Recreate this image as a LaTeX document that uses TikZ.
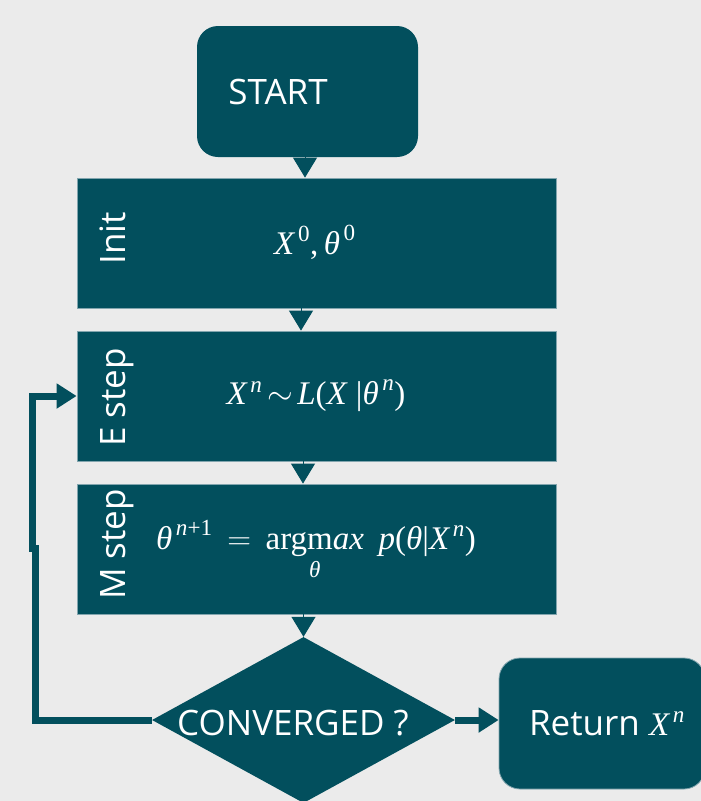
\documentclass[tikz,border=0pt]{standalone}
\usepackage{fix-cm}
\usepackage{amsmath}
\usepackage[no-math]{fontspec}
\setmainfont{Open Sans}
\newfontfamily\formulafont{Liberation Serif}
% italic and upright formula pieces set in the serif text face
\newcommand{\fvar}[1]{\text{\formulafont\itshape #1}}
\newcommand{\fup}[1]{\text{\formulafont #1}}
% base letter with a little room before its superscript
\newcommand{\fbase}[1]{{\fvar{#1}\mkern2mu}}
\usetikzlibrary{shapes.geometric,arrows.meta}
\definecolor{emfill}{RGB}{2,79,93}
\definecolor{emback}{RGB}{235,235,235}
\definecolor{emedge}{RGB}{130,165,174}
\begin{document}
\begin{tikzpicture}[x=1pt,y=-1pt,
  every node/.style={text=white,inner sep=0pt},
  stepbox/.style={fill=emfill,draw=emedge,line width=0.8pt,minimum width=479,minimum height=130},
  roundbox/.style={fill=emfill,rounded corners=21pt,minimum height=131},
  sidelabel/.style={rotate=90,anchor=base,font=\fontsize{35}{40}\selectfont},
  bodytext/.style={font=\fontsize{35}{40}\selectfont},
  mathtext/.style={font=\fontsize{33}{39}\selectfont},
  linkhead/.style={draw=emfill,line width=1pt,-{Triangle[width=24pt,length=20pt]}},
  loopline/.style={draw=emfill,line width=7pt,-{Triangle[width=24pt,length=20pt]}}
]
\fill[emback] (0,0) rectangle (701,801);
\useasboundingbox (0,0) rectangle (701,801);
\clip (0,0) rectangle (701,801);

% start terminal
\node[roundbox,minimum width=221] (start) at (307.5,91.5) {};
\node[bodytext] (starttxt) at (278,92) {START};

% the three process steps
\node[stepbox] (init) at (316.5,243) {};
\node[stepbox] (estep) at (316.5,396) {};
\node[stepbox] (mstep) at (316.5,549) {};

\node[sidelabel] (initlbl) at (125,238.5) {Init};
\node[sidelabel] (elbl) at (125,397.5) {E step};
\node[sidelabel] (mlbl) at (125,544.5) {M step};

\node[mathtext] (initmath) at (315,242)
  {$\fbase{X}^{\fup{0}}\fup{,}\,\fbase{θ}^{\fup{0}}$};
\node[mathtext] (emath) at (316,396)
  {$\fbase{X}^{\fvar{n}}\mkern3mu{\sim}\mkern2mu\fvar{L}\fup{(}\fvar{X}\;\fup{|}\fbase{θ}^{\fvar{n}}\fup{)}$};
\node[mathtext] (mmath) at (316,550)
  {$\fbase{θ}^{\fvar{n}\fup{+1}}\mkern3mu=\mkern3mu\mathop{\fup{argm}\fvar{ax}}\limits_{\fvar{θ}}\;\fvar{p}\fup{(}\fvar{θ}\fup{|}\fbase{X}^{\fvar{n}}\fup{)}$};

% convergence test
\node[diamond,fill=emfill,minimum width=303,minimum height=166] (test) at (303.5,720) {};
\node[bodytext] (testtxt) at (293,723) {CONVERGED ?};

% result terminal
\node[roundbox,draw=emedge,line width=0.8pt,minimum width=206] (ret) at (602,723.5) {};
\node[bodytext] (rettxt) at (607,723) {Return {\fontsize{33}{39}\selectfont$\fbase{X}^{\fvar{n}}$}};

% short links between the stacked blocks
\draw[linkhead] (start.south -| 305,0) -- (init.north -| 305,0);
\draw[linkhead] (init.south -| 301,0) -- (estep.north -| 301,0);
\draw[linkhead] (estep.south -| 303,0) -- (mstep.north -| 303,0);
\draw[linkhead] (mstep.south -| test.north) -- (test.north);

% loop back and exit
\draw[loopline] (test.west) -- (35,720) -- (35,548) -- (32.5,548) |- (estep.west);
\draw[loopline] (test.east) -- (test.east -| ret.west);
\end{tikzpicture}
\end{document}
